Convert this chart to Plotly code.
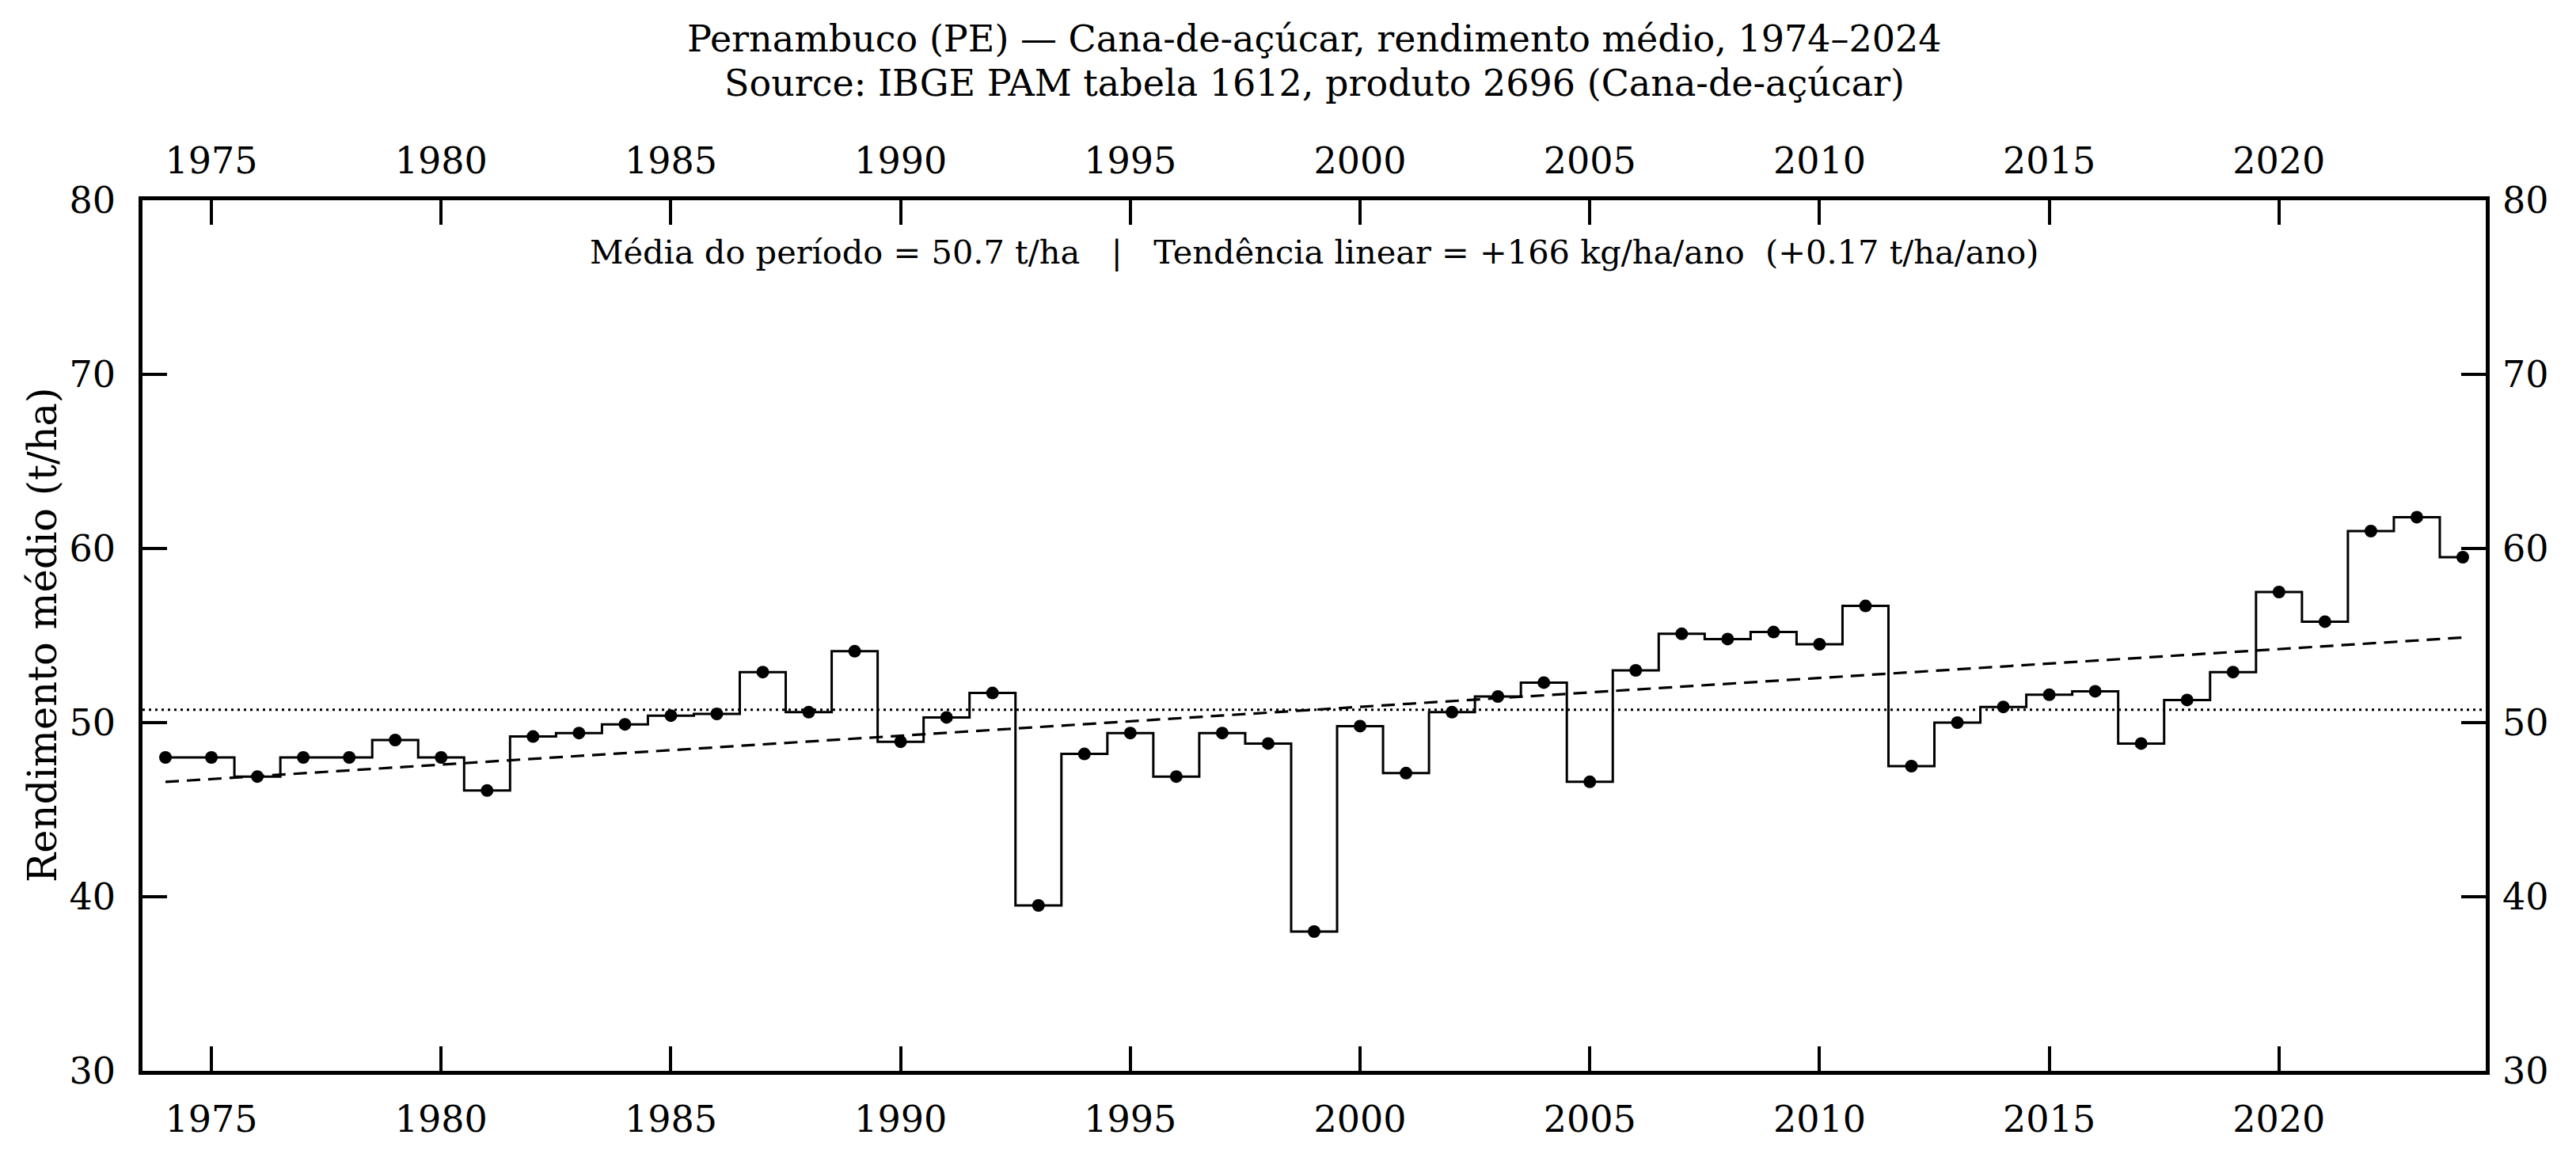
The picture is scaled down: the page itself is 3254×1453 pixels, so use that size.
import numpy as np
import plotly.graph_objects as go

# ---- data ----
years = list(range(1974, 2025))
rendimento = [
    48.0, 48.0, 46.9, 48.0, 48.0, 49.0, 48.0, 46.1, 49.2, 49.4,   # 1974-1983
    49.9, 50.4, 50.5, 52.9, 50.6, 54.1, 48.9, 50.3, 51.7, 39.5,   # 1984-1993
    48.2, 49.4, 46.9, 49.4, 48.8, 38.0, 49.8, 47.1, 50.6, 51.5,   # 1994-2003
    52.3, 46.6, 53.0, 55.1, 54.8, 55.2, 54.5, 56.7, 47.5, 50.0,   # 2004-2013
    50.9, 51.6, 51.8, 48.8, 51.3, 52.9, 57.5, 55.8, 61.0, 61.8,   # 2014-2023
    59.5,                                                          # 2024
]
x_ticks = [1975, 1980, 1985, 1990, 1995, 2000, 2005, 2010, 2015, 2020]
y_ticks = [30, 40, 50, 60, 70, 80]

title_line1 = "Pernambuco (PE) — Cana-de-açúcar, rendimento médio, 1974–2024"
title_line2 = "Source: IBGE PAM tabela 1612, produto 2696 (Cana-de-açúcar)"
stats_text = ("Média do período = 50.7 t/ha   |   Tendência linear = +166 kg/ha/ano  (+0.17 t/ha/ano)"
              .replace(" ", "\u00a0"))
y_label = "Rendimento médio (t/ha)"

# ---- derived ----
yr = np.array(years, dtype=float)
val = np.array(rendimento, dtype=float)
mean_val = float(val.mean())
slope, intercept = np.polyfit(yr, val, 1)
trend = slope * yr + intercept

W, H = 3254, 1453
L, R, T, B = 180, 114, 253, 100
pw, ph = W - L - R, H - T - B

def py(Y):  # pixel y -> paper y
    return (H - B - Y) / ph

def px(X):  # pixel x -> paper x
    return (X - L) / pw

FONT = "DejaVu Serif"
TICK_FS = 46

fig = go.Figure()
fig.add_trace(go.Scatter(
    x=years, y=rendimento, mode="lines+markers", line_shape="hvh",
    line=dict(color="black", width=3),
    marker=dict(color="black", size=16),
    showlegend=False, hoverinfo="x+y"))
fig.add_trace(go.Scatter(
    x=years, y=trend, mode="lines",
    line=dict(color="black", width=3.2, dash="17px,10px"),
    showlegend=False, hoverinfo="skip"))
# invisible trace to anchor the secondary (top / right) axes
fig.add_trace(go.Scatter(
    x=[years[0]], y=[rendimento[0]], xaxis="x2", yaxis="y2", mode="markers",
    marker=dict(opacity=0), showlegend=False, hoverinfo="skip"))

fig.add_shape(type="line", xref="paper", x0=0, x1=1, yref="y", y0=mean_val, y1=mean_val,
              line=dict(color="black", width=3, dash="3px,5px"))

common_x = dict(range=[1973.5, 2024.5], tickmode="array", tickvals=x_ticks,
                ticks="inside", ticklen=31, tickwidth=4, tickcolor="black",
                showgrid=False, zeroline=False,
                tickfont=dict(family=FONT, size=TICK_FS, color="black"))
common_y = dict(range=[30, 80], tickmode="array", tickvals=y_ticks,
                ticks="inside", ticklen=31, tickwidth=4, tickcolor="black",
                showgrid=False, zeroline=False,
                tickfont=dict(family=FONT, size=TICK_FS, color="black"))

fig.update_layout(
    width=W, height=H, autosize=False,
    margin=dict(l=L, r=R, t=T, b=B, pad=0),
    paper_bgcolor="white", plot_bgcolor="white",
    font=dict(family=FONT, color="black"),
    xaxis=dict(**common_x, showline=True, linewidth=4.5, linecolor="black", mirror=True,
               side="bottom", ticklabelstandoff=17),
    xaxis2=dict(**common_x, overlaying="x", side="top", showline=False, anchor="y",
                ticklabelstandoff=24),
    yaxis=dict(**common_y, showline=True, linewidth=4.5, linecolor="black", mirror=True,
               side="left", ticklabelstandoff=20),
    yaxis2=dict(**common_y, overlaying="y", side="right", showline=False, anchor="x",
                ticklabelstandoff=20),
    annotations=[
        dict(text=title_line1, xref="paper", yref="paper", x=0.5, y=py(49),
             xanchor="center", yanchor="middle", showarrow=False,
             font=dict(family=FONT, size=46, color="black")),
        dict(text=title_line2, xref="paper", yref="paper", x=0.5, y=py(105),
             xanchor="center", yanchor="middle", showarrow=False,
             font=dict(family=FONT, size=46, color="black")),
        dict(text=stats_text, xref="paper", yref="paper", x=0.5, y=py(318),
             xanchor="center", yanchor="middle", showarrow=False,
             font=dict(family=FONT, size=41.5, color="black")),
        dict(text=y_label, xref="paper", yref="paper", x=px(54), y=0.5,
             xanchor="center", yanchor="middle", showarrow=False, textangle=-90,
             font=dict(family=FONT, size=49.5, color="black")),
    ],
)

fig.write_html("out.html")
